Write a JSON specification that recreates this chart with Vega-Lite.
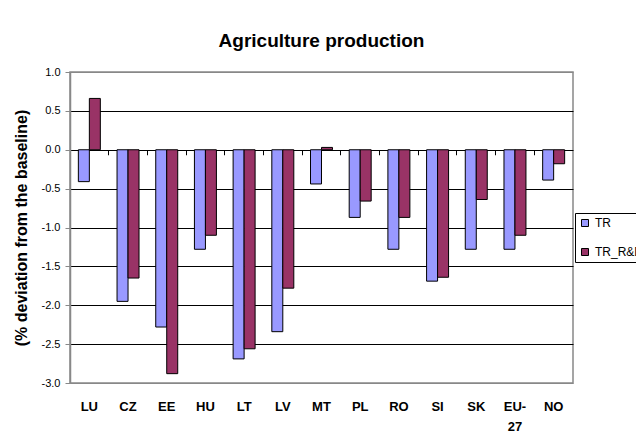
{
  "$schema": "https://vega.github.io/schema/vega-lite/v6.json",
  "width": 503,
  "height": 311,
  "autosize": "none",
  "padding": {"left": 70, "top": 72, "right": 63, "bottom": 65},
  "background": "white",
  "config": {
    "font": "Liberation Sans",
    "view": {"stroke": "#888888", "strokeWidth": 1.5}
  },
  "title": {
    "text": "Agriculture production",
    "fontSize": 19,
    "fontWeight": "bold",
    "font": "Liberation Sans",
    "color": "black",
    "anchor": "middle",
    "offset": 15
  },
  "data": {
    "values": [
      {"country": "LU", "scenario": "TR", "value": -0.41},
      {"country": "LU", "scenario": "TR_R&D", "value": 0.66},
      {"country": "CZ", "scenario": "TR", "value": -1.95},
      {"country": "CZ", "scenario": "TR_R&D", "value": -1.65},
      {"country": "EE", "scenario": "TR", "value": -2.28},
      {"country": "EE", "scenario": "TR_R&D", "value": -2.88},
      {"country": "HU", "scenario": "TR", "value": -1.28},
      {"country": "HU", "scenario": "TR_R&D", "value": -1.10},
      {"country": "LT", "scenario": "TR", "value": -2.69},
      {"country": "LT", "scenario": "TR_R&D", "value": -2.56},
      {"country": "LV", "scenario": "TR", "value": -2.34},
      {"country": "LV", "scenario": "TR_R&D", "value": -1.78},
      {"country": "MT", "scenario": "TR", "value": -0.44},
      {"country": "MT", "scenario": "TR_R&D", "value": 0.03},
      {"country": "PL", "scenario": "TR", "value": -0.87},
      {"country": "PL", "scenario": "TR_R&D", "value": -0.66},
      {"country": "RO", "scenario": "TR", "value": -1.28},
      {"country": "RO", "scenario": "TR_R&D", "value": -0.87},
      {"country": "SI", "scenario": "TR", "value": -1.69},
      {"country": "SI", "scenario": "TR_R&D", "value": -1.64},
      {"country": "SK", "scenario": "TR", "value": -1.28},
      {"country": "SK", "scenario": "TR_R&D", "value": -0.64},
      {"country": "EU-27", "scenario": "TR", "value": -1.28},
      {"country": "EU-27", "scenario": "TR_R&D", "value": -1.10},
      {"country": "NO", "scenario": "TR", "value": -0.39},
      {"country": "NO", "scenario": "TR_R&D", "value": -0.18}
    ]
  },
  "resolve": {"axis": {"x": "independent"}},
  "layer": [
    {
      "mark": {"type": "bar", "stroke": "black", "strokeWidth": 1},
      "encoding": {
        "x": {
          "field": "country",
          "type": "nominal",
          "sort": null,
          "scale": {"paddingInner": 0, "paddingOuter": 0},
          "axis": {
            "title": null,
            "domain": false,
            "ticks": false,
            "labelAngle": 0,
            "labelFontWeight": "bold",
            "labelFontSize": 13,
            "labelColor": "black",
            "labelPadding": 17,
            "labelLineHeight": 20,
            "labelExpr": "datum.label == 'EU-27' ? ['EU-', '27'] : datum.label"
          }
        },
        "xOffset": {
          "field": "scenario",
          "type": "nominal",
          "sort": ["TR", "TR_R&D"],
          "scale": {"paddingInner": 0, "paddingOuter": 0.76}
        },
        "y": {
          "field": "value",
          "type": "quantitative",
          "scale": {"domain": [-3, 1], "nice": false, "zero": false},
          "axis": {
            "values": [-3, -2.5, -2, -1.5, -1, -0.5, 0, 0.5, 1],
            "labelExpr": "replace(format(datum.value, '.1f'), '−', '-')",
            "title": "(% deviation from the baseline)",
            "titleFontSize": 16,
            "titleFontWeight": "bold",
            "titleColor": "black",
            "titlePadding": 12,
            "labelFontSize": 11,
            "labelColor": "black",
            "labelPadding": 5,
            "domainColor": "#888888",
            "domainWidth": 1.5,
            "tickColor": "#888888",
            "tickSize": 5,
            "grid": true,
            "gridColor": {"condition": {"test": "datum.value == 1 || datum.value == -3", "value": "#888888"}, "value": "black"},
            "gridOpacity": 1
          }
        },
        "color": {
          "field": "scenario",
          "type": "nominal",
          "scale": {"domain": ["TR", "TR_R&D"], "range": ["#9999FF", "#993366"]},
          "legend": {
            "title": null,
            "orient": "none",
            "legendX": 505,
            "legendY": 141,
            "symbolType": "square",
            "symbolSize": 49,
            "symbolStrokeColor": "black",
            "symbolStrokeWidth": 1,
            "labelFontSize": 12,
            "labelColor": "black",
            "labelOffset": 4,
            "rowPadding": 17,
            "padding": 4,
            "strokeColor": "black",
            "fillColor": "white"
          }
        }
      }
    },
    {
      "mark": {"type": "rule", "opacity": 0},
      "encoding": {
        "x": {
          "field": "country",
          "type": "nominal",
          "sort": null,
          "axis": {
            "orient": "bottom",
            "offset": -233.25,
            "title": null,
            "domain": false,
            "labels": false,
            "ticks": true,
            "bandPosition": 0,
            "tickSize": 5,
            "tickWidth": 1,
            "tickColor": "black",
            "grid": false
          }
        }
      }
    }
  ]
}
